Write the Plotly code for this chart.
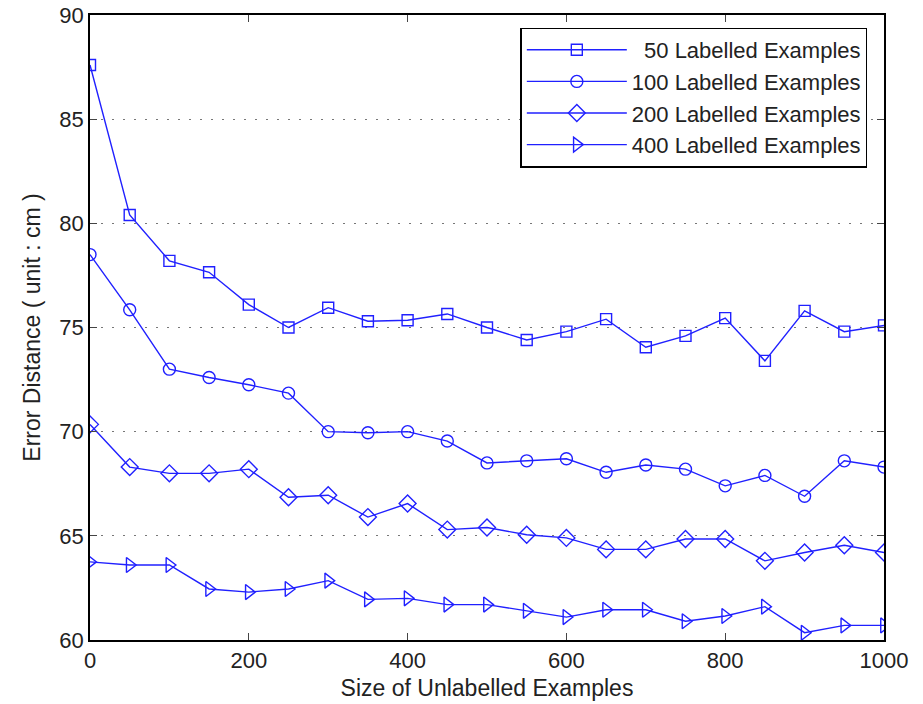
import plotly.graph_objects as go

x_vals = list(range(0, 1001, 50))

s50 = [87.6, 80.4, 78.2, 77.65, 76.1, 75.0, 75.95, 75.3, 75.35, 75.65, 75.0,
       74.4, 74.8, 75.4, 74.05, 74.6, 75.45, 73.4, 75.8, 74.8, 75.1]
s100 = [78.5, 75.85, 73.0, 72.6, 72.25, 71.85, 70.0, 69.95, 70.0, 69.55, 68.5,
        68.6, 68.7, 68.05, 68.4, 68.2, 67.4, 67.9, 66.9, 68.6, 68.3]
s200 = [70.35, 68.3, 68.0, 68.0, 68.2, 66.85, 66.95, 65.9, 66.55, 65.3, 65.4,
        65.05, 64.9, 64.35, 64.35, 64.85, 64.85, 63.8, 64.2, 64.55, 64.2]
s400 = [63.75, 63.6, 63.6, 62.45, 62.3, 62.45, 62.85, 61.95, 62.0, 61.7, 61.7,
        61.4, 61.1, 61.45, 61.45, 60.9, 61.15, 61.6, 60.35, 60.7, 60.7]

names = ["  50 Labelled Examples", "100 Labelled Examples",
         "200 Labelled Examples", "400 Labelled Examples"]
series = [s50, s100, s200, s400]
symbols = ["square-open", "circle-open", "diamond-open", "triangle-right-open"]
sizes = [11, 12, 13, 13]

x_ticks = [0, 200, 400, 600, 800, 1000]
y_ticks = [60, 65, 70, 75, 80, 85, 90]

blue = "#2020ff"
fig = go.Figure()
for name, ys, sym, sz in zip(names, series, symbols, sizes):
    fig.add_trace(go.Scatter(
        x=x_vals, y=ys, name=name, mode="lines+markers",
        line=dict(color=blue, width=1.4),
        marker=dict(symbol=sym, size=sz, color=blue,
                    line=dict(width=1.4, color=blue)),
    ))

font_family = "Liberation Sans, Arial, sans-serif"
fig.update_layout(
    width=923, height=704,
    margin=dict(l=90, r=39, t=15, b=64),
    paper_bgcolor="white", plot_bgcolor="white",
    font=dict(family=font_family, size=22, color="#222"),
    showlegend=True,
    legend=dict(x=0.979, y=0.98, xanchor="right", yanchor="top",
                bordercolor="black", borderwidth=1.5, bgcolor="white",
                font=dict(size=22, color="#222"), itemwidth=100,
                tracegroupgap=0),
    xaxis=dict(range=[0, 1000], tickvals=x_ticks, ticks="inside", ticklen=7,
               showline=True, linecolor="black", linewidth=1.8, mirror="ticks",
               showgrid=False, zeroline=False, automargin=False,
               tickfont=dict(size=22),
               title=dict(text="Size of Unlabelled Examples", standoff=8,
                          font=dict(size=23))),
    yaxis=dict(range=[60, 90], tickvals=y_ticks, ticks="inside", ticklen=7,
               showline=True, linecolor="black", linewidth=1.8, mirror="ticks",
               showgrid=True, gridcolor="#777", griddash="2px,9px", gridwidth=1,
               zeroline=False, tickfont=dict(size=22), automargin=False,
               title=dict(text="Error Distance ( unit : cm )", standoff=12,
                          font=dict(size=23))),
)

fig.write_html("out.html")
